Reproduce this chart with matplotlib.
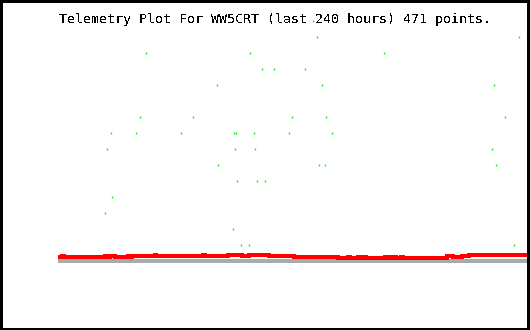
import numpy as np
import matplotlib
matplotlib.use("Agg")
import matplotlib.pyplot as plt
from matplotlib.patches import Rectangle

# ---- data ----
title = "Telemetry Plot For WW5CRT (last 240 hours) 471 points."
n_points = 471
hours_span = 240

# red series: run-length encoded levels (value, number of samples)
red_levels = [0.262, 0.325, 0.262, 0.325, 0.262, 0.325, 0.231, 0.294, 0.231, 0.325,
              0.375, 0.325, 0.375, 0.325, 0.388, 0.325, 0.388, 0.325, 0.294, 0.325,
              0.294, 0.325, 0.294, 0.262, 0.188, 0.25, 0.188, 0.25, 0.188, 0.25,
              0.188, 0.25, 0.188, 0.25, 0.188, 0.25, 0.188, 0.25, 0.2, 0.269,
              0.25, 0.294, 0.344, 0.375, 0.344, 0.375, 0.344, 0.375, 0.344, 0.375,
              0.344, 0.388]
red_counts = [4, 2, 41, 3, 2, 5, 13, 2, 2, 23,
              1, 47, 2, 23, 14, 7, 20, 9, 4, 2,
              4, 2, 3, 44, 10, 2, 8, 3, 2, 3,
              19, 2, 2, 2, 3, 2, 5, 2, 44, 6,
              9, 7, 6, 3, 6, 3, 12, 2, 6, 3,
              11, 9]

# green series: (hours ago, value)
green_hours = [-198.2, -110.1, -107.9, -4.9, -195.0, -142.0, -73.7, -135.9, -129.8, -114.3,
               -158.8, -105.3, -17.7, -198.1, -171.1, -120.6, -103.3, -12.1, -212.8, -200.1,
               -177.2, -150.2, -149.1, -140.0, -122.1, -100.2, -215.2, -149.7, -139.5, -18.7,
               -158.3, -106.8, -103.8, -16.6, -148.6, -138.4, -134.4, -212.3, -215.9, -150.7,
               -146.6, -142.5, -7.5]
green_values = [15, 15, 14, 14, 13, 13, 13, 12, 12, 12,
                11, 11, 11, 9, 9, 9, 9, 9, 8, 8,
                8, 8, 8, 8, 8, 8, 7, 7, 7, 7,
                6, 6, 6, 6, 5, 5, 5, 4, 3, 2,
                1, 1, 1]

baseline = 0.0

# ---- plot ----
plt.rcParams['text.antialiased'] = False
fig = plt.figure(figsize=(5.3, 3.3), dpi=100)
fig.patch.set_facecolor("white")

ax = fig.add_axes([58 / 530, 0, 471 / 530, 1])
ax.set_xlim(-hours_span, 0)
ax.set_ylim(-4.33, 16.3)
ax.axis("off")

red_x = np.linspace(-hours_span, 0, n_points)
red_y = np.repeat(red_levels, red_counts)

ax.axhline(baseline, color="#aaaaaa", lw=1.5, antialiased=False, zorder=1)
ax.plot(red_x, red_y, color="#ff0000", lw=1.55, drawstyle="steps-post",
        solid_joinstyle="miter", solid_capstyle="butt",
        antialiased=False, zorder=2)
ax.plot(green_hours, green_values, ls="none", marker="|", color="#00ff00",
        markersize=1.8, markeredgewidth=1.0, antialiased=False, zorder=3)

fig.text(275 / 530, 1 - 23 / 330, title, family="DejaVu Sans Mono", fontsize=9.5,
         ha="center", va="baseline", color="black")

fig.patches.append(Rectangle((0.5 / 530, 0.5 / 330), 528.5 / 530, 328.5 / 330,
                             transform=fig.transFigure, fill=False, ec="black",
                             lw=1.5, antialiased=False))

fig.savefig("out.png", dpi=100, facecolor="white")
